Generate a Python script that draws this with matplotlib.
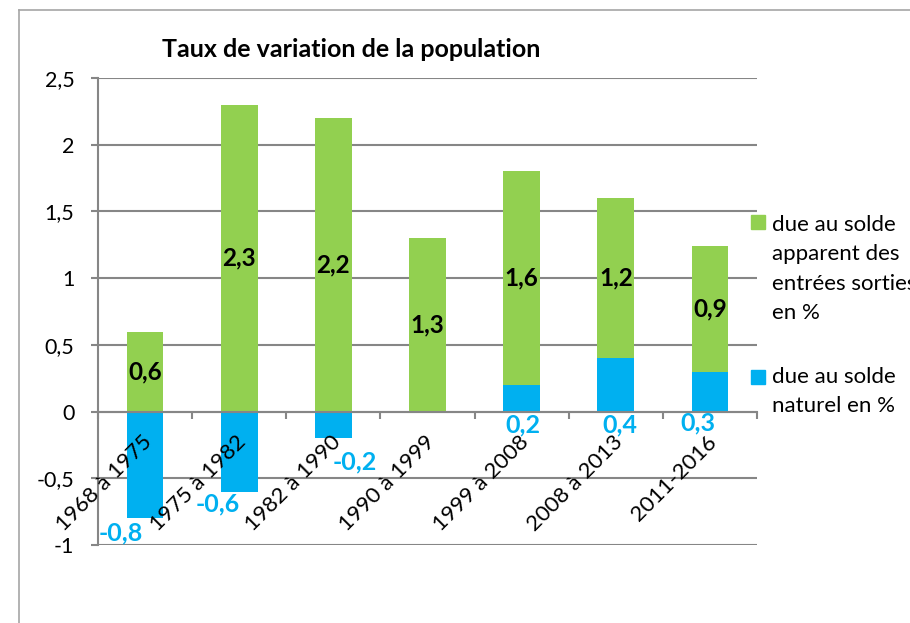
import matplotlib
matplotlib.use('Agg')
import matplotlib.pyplot as plt
import matplotlib.transforms as mtransforms
from matplotlib.lines import Line2D
from matplotlib.patches import Rectangle

categories = ["1968 à 1975", "1975 à 1982", "1982 à 1990", "1990 à 1999",
              "1999 à 2008", "2008 à 2013", "2011-2016"]
solde_naturel = [-0.8, -0.6, -0.2, 0.0, 0.2, 0.4, 0.3]
solde_migratoire = [0.6, 2.3, 2.2, 1.3, 1.6, 1.2, 0.94]
yticks = [-1, -0.5, 0, 0.5, 1, 1.5, 2, 2.5]
ytick_labels = ["-1", "-0,5", "0", "0,5", "1", "1,5", "2", "2,5"]
title = "Taux de variation de la population"
legend_green = ["due au solde", "apparent des", "entrées sorties", "en %"]
legend_blue = ["due au solde", "naturel en %"]

GREEN = "#92D050"
BLUE = "#00B0F0"
GRID = "#868686"
FRAME = "#A6A6A6"

plt.rcParams['font.family'] = ['Lato', 'DejaVu Sans']

W, H = 910, 623
fig = plt.figure(figsize=(W / 100, H / 100), dpi=100)
ax = fig.add_axes([98 / W, (H - 545) / H, (757 - 98) / W, (545 - 78) / H])

x = list(range(len(categories)))
bottoms = [max(v, 0) for v in solde_naturel]
ax.bar(x, solde_naturel, width=0.39, color=BLUE, zorder=3)
ax.bar(x, solde_migratoire, width=0.39, bottom=bottoms, color=GREEN, zorder=3)

def fmt(v):
    return f"{v:.1f}".replace('.', ',')

# green labels (centered in segment)
for i, (g, b) in enumerate(zip(solde_migratoire, bottoms)):
    ax.text(i, b + g / 2, fmt(g), ha='center', va='center',
            fontsize=17.5, fontweight='bold', color='black', zorder=5)

# blue labels: pixel offsets
blue_offsets = [(-24, -15), (-21, -12), (21, -24), (0, 0), (1, -13), (4, -13), (-12, -11)]
for i, v in enumerate(solde_naturel):
    if v == 0:
        continue
    anchor = v if v < 0 else 0
    dx, dy = blue_offsets[i]
    ax.annotate(fmt(v), xy=(i, anchor), xytext=(dx * 0.72, dy * 0.72),
                textcoords='offset points', ha='center', va='center',
                fontsize=18, fontweight='bold', color=BLUE, zorder=5)

ax.set_xlim(-0.5, len(categories) - 0.5)
ax.set_ylim(-1, 2.5)
ax.set_yticks(yticks, ytick_labels)
ax.yaxis.grid(True, color=GRID, lw=1.5, zorder=0)
ax.set_axisbelow(True)

for s in ['top', 'right']:
    ax.spines[s].set_visible(False)
ax.spines['bottom'].set_position(('data', 0))
for s in ['bottom', 'left']:
    ax.spines[s].set_color(GRID)
    ax.spines[s].set_linewidth(1.5)
    ax.spines[s].set_zorder(4)

ax.tick_params(axis='y', length=5, width=1.5, color=GRID, pad=12,
               labelsize=15.5, labelcolor='black')
ax.set_xticks(x, [""] * len(x))
ax.set_xticks([i - 0.5 for i in range(len(categories) + 1)], minor=True)
ax.tick_params(axis='x', which='major', length=0)
ax.tick_params(axis='x', which='minor', length=5, width=1.5, color=GRID, direction='out')

# category labels drawn above bars
offset = mtransforms.ScaledTranslation(4 / 100, -27 / 100, fig.dpi_scale_trans)
for i, cat in enumerate(categories):
    ax.text(i, 0, cat, transform=ax.transData + offset, rotation=45,
            rotation_mode='anchor', ha='right', va='center', fontsize=16,
            color='black', zorder=6)

fig.text(351 / W, 1 - 57 / H, title, ha='center', va='baseline',
         fontsize=18, fontweight='bold')

# legend
fig.add_artist(Rectangle((751 / W, 1 - 229 / H), 14 / W, 14 / H,
                         transform=fig.transFigure, color=GREEN))
for k, t in enumerate(legend_green):
    fig.text(772 / W, 1 - (231 + 29.3 * k) / H, t, ha='left', va='baseline', fontsize=16)
fig.add_artist(Rectangle((751 / W, 1 - 384 / H), 14 / W, 14 / H,
                         transform=fig.transFigure, color=BLUE))
for k, t in enumerate(legend_blue):
    fig.text(772 / W, 1 - (383 + 29.3 * k) / H, t, ha='left', va='baseline', fontsize=16)

# outer frame
fig.add_artist(Line2D([19 / W, 19 / W], [0, 1 - 10 / H], transform=fig.transFigure,
                      color=FRAME, lw=1.2))
fig.add_artist(Line2D([19 / W, 1], [1 - 10 / H, 1 - 10 / H], transform=fig.transFigure,
                      color=FRAME, lw=1.2))

fig.savefig('out.png', dpi=100)
